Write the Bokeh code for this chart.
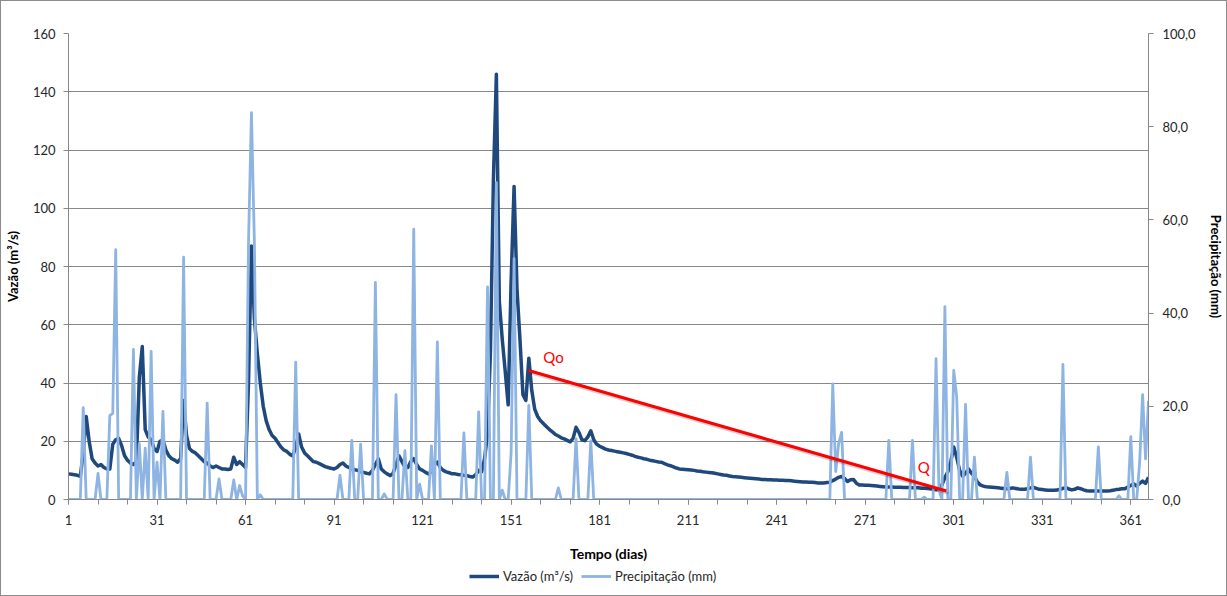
from bokeh.plotting import figure
from bokeh.layouts import column
from bokeh.models import Range1d, LinearAxis, FixedTicker, Legend, LegendItem, Label
from bokeh.embed import file_html
from bokeh.resources import INLINE

# ---------------- data ----------------
discharge = [
    8.8, 8.7, 8.5, 8.3, 8.0, 16, 28.5, 20, 14, 12.5,
    11.5, 12, 11, 10.5, 10.5, 19, 20.5, 21, 18.5, 15,
    13.5, 12.5, 12, 13, 42, 52.5, 24, 21.5, 20.5, 17.5,
    16.5, 20, 20.5, 17, 15, 14, 13.5, 12.8, 14, 34,
    22, 17.5, 16.5, 16, 15, 14, 13, 12.5, 11.5, 11,
    11.5, 11, 10.5, 10.5, 10.3, 10.5, 14.5, 12, 13, 12,
    11, 40, 87, 62, 50, 40, 32, 27, 24, 22,
    21, 19.5, 18, 17, 16.5, 15.5, 15, 18, 22.5, 18,
    16, 15, 14, 13, 12.8, 12.3, 11.8, 11.3, 11, 10.7,
    10.5, 11, 12, 12.5, 11.5, 11, 10.5, 10.2, 10, 9.6,
    9.3, 9, 8.8, 10, 12, 14, 10.5, 9.5, 8.8, 8.2,
    9, 12, 15, 13, 11.1, 11, 13, 14, 12, 10.5,
    10, 9.3, 8.8, 9.5, 12, 12.8, 11, 10, 9.5, 9.2,
    8.8, 8.8, 8.6, 8.5, 8.3, 8.2, 7.9, 7.7, 8.5, 10,
    9.5, 14, 22.5, 51, 110, 146, 68, 55, 44, 32.5,
    75, 107.5, 72, 55, 36, 34, 48.5, 37.4, 31, 28.5,
    27, 26, 25, 24, 23.2, 22.3, 21.8, 21.2, 20.8, 20.3,
    19.8, 21, 24.8, 23, 20.5, 20.2, 21.5, 23.6, 20.5, 19,
    18.3, 17.8, 17.3, 17, 16.8, 16.6, 16.4, 16.2, 16, 15.8,
    15.5, 15.2, 14.8, 14.5, 14.3, 14, 13.8, 13.5, 13.3, 13.1,
    12.9, 12.8, 12.3, 11.9, 11.6, 11.2, 10.8, 10.5, 10.4, 10.3,
    10.2, 10.1, 10, 9.8, 9.7, 9.5, 9.4, 9.3, 9.2, 9,
    8.8, 8.6, 8.4, 8.3, 8.1, 7.9, 7.8, 7.7, 7.6, 7.5,
    7.4, 7.3, 7.2, 7.1, 7.0, 6.9, 6.9, 6.8, 6.8, 6.7,
    6.7, 6.6, 6.6, 6.5, 6.5, 6.4, 6.3, 6.2, 6.1, 6.0,
    6.0, 5.9, 5.9, 5.8, 5.7, 5.7, 5.7, 5.8, 5.9, 6.5,
    7.0, 7.6, 7.9, 7.2, 6.2, 6.8, 6.9, 5.6, 5.0, 5.0,
    4.9, 4.9, 4.8, 4.7, 4.6, 4.5, 4.4, 4.3, 4.3, 4.3,
    4.2, 4.2, 4.2, 4.1, 4.1, 4.1, 4.0, 4.0, 4.0, 3.9,
    3.9, 3.8, 3.7, 3.5, 3.3, 3.5, 5.0, 7.5, 9.5, 13,
    18, 14.5, 10, 8, 9, 10.5, 9, 8, 6, 5,
    4.6, 4.4, 4.3, 4.2, 4.1, 4.0, 3.9, 3.8, 3.7, 3.8,
    4.0, 3.8, 3.6, 3.5, 3.5, 3.7, 4.0, 4.2, 3.8, 3.5,
    3.4, 3.3, 3.2, 3.2, 3.2, 3.3, 3.4, 3.8, 4.1, 3.6,
    3.3, 3.5, 4.0, 3.7, 3.3, 3.0, 2.9, 2.9, 2.9, 2.9,
    2.9, 2.9, 2.9, 3.0, 3.2, 3.4, 3.5, 3.7, 3.7, 4.3,
    4.8, 5.4, 4.6, 5.6, 6.3, 5.5, 7.6,
]

# days with rain (all other days: 0 mm)
rain_days = [6, 11, 15, 16, 17, 23, 25, 27, 29, 31, 33, 40, 48, 52, 57, 59, 60,
             62, 63, 64, 66, 78, 93, 97, 100, 105, 108, 112, 115, 118, 120, 124,
             126, 135, 140, 143, 146, 148, 151, 152, 157, 167, 173, 178, 260, 261,
             262, 263, 279, 287, 291, 295, 296, 298, 301, 302, 305, 308, 319, 327,
             338, 350, 357, 361, 364, 365, 366, 367]
rain_mm = [19.7, 5.6, 18, 18.5, 53.6, 32.2, 12, 11, 31.8, 8, 18.9, 52, 20.7, 4.4, 4.2, 3, 0.8,
           55, 83, 55, 1, 29.5, 5.2, 12.7, 11.9, 46.6, 1.2, 22.5, 10.5, 58, 3.3, 11.5,
           33.8, 14.3, 18.8, 45.6, 68, 2, 10, 51.7, 20.2, 2.5, 13, 12.6, 24.8, 6,
           12, 14.4, 12.7, 12.7, 0.5, 30.2, 2, 41.4, 27.7, 22, 20.4, 9.1, 5.8, 9.1,
           29, 11.3, 0.8, 13.5, 8, 22.5, 8.7, 21.2]

days = list(range(1, len(discharge) + 1))
precipitation = [0.0] * len(days)
for d, mm in zip(rain_days, rain_mm):
    precipitation[d - 1] = mm

x_ticks = [1, 31, 61, 91, 121, 151, 181, 211, 241, 271, 301, 331, 361]
x_minor = list(range(1, 368, 10))
q_ticks = [0, 20, 40, 60, 80, 100, 120, 140, 160]
p_ticks = [0, 20, 40, 60, 80, 100]
p_tick_labels = {0: "0,0", 20: "20,0", 40: "40,0", 60: "60,0", 80: "80,0", 100: "100,0"}

# recession segment Qo -> Q
recession_days = [156.9, 298.5]
recession_q = [44.3, 2.9]

# ---------------- styling ----------------
FONT = "Lato"
DARK = "#1F497D"
LIGHT = "#8DB4E2"
GRID = "#888888"
TXT = "#262626"

p = figure(width=1225, height=564, output_backend="svg", toolbar_location=None,
           x_range=Range1d(1, days[-1]), y_range=Range1d(0, 160),
           min_border_left=67, min_border_right=75, min_border_top=32, min_border_bottom=66)
p.extra_y_ranges = {"precip": Range1d(0, 100)}
p.outline_line_color = None
p.background_fill_color = "white"
p.border_fill_color = "white"

# x axis
xa = p.xaxis[0]
xa.ticker = FixedTicker(ticks=x_ticks, minor_ticks=x_minor)
xa.axis_label = "Tempo (dias)"
xa.axis_label_text_font = FONT
xa.axis_label_text_font_style = "bold"
xa.axis_label_text_font_size = "14px"
xa.axis_label_text_color = "#000000"
xa.axis_label_standoff = 17
xa.major_label_text_font = FONT
xa.major_label_text_font_size = "13px"
xa.major_label_text_color = TXT
xa.major_label_standoff = 10
xa.axis_line_color = GRID
xa.major_tick_line_color = GRID
xa.minor_tick_line_color = GRID
xa.major_tick_out = 5
xa.major_tick_in = 0
xa.minor_tick_out = 5
xa.minor_tick_in = 0

# left axis
ya = p.yaxis[0]
ya.ticker = FixedTicker(ticks=q_ticks)
ya.axis_label = "Vazão (m³/s)"
ya.axis_label_text_font = FONT
ya.axis_label_text_font_style = "bold"
ya.axis_label_text_font_size = "13px"
ya.axis_label_text_color = "#000000"
ya.axis_label_standoff = 9
ya.major_label_text_font = FONT
ya.major_label_text_font_size = "13px"
ya.major_label_text_color = TXT
ya.major_label_standoff = 8
ya.axis_line_color = GRID
ya.major_tick_line_color = GRID
ya.major_tick_out = 5
ya.major_tick_in = 0
ya.minor_tick_line_color = None

# right axis
ra = LinearAxis(y_range_name="precip", ticker=FixedTicker(ticks=p_ticks),
                axis_label="Precipitação (mm)")
ra.major_label_overrides = p_tick_labels
ra.axis_label_text_font = FONT
ra.axis_label_text_font_style = "bold"
ra.axis_label_text_font_size = "13px"
ra.axis_label_text_color = "#000000"
ra.axis_label_standoff = 9
ra.major_label_text_font = FONT
ra.major_label_text_font_size = "13px"
ra.major_label_text_color = TXT
ra.major_label_standoff = 9
ra.axis_line_color = GRID
ra.major_tick_line_color = GRID
ra.major_tick_out = 5
ra.major_tick_in = 0
ra.minor_tick_line_color = None
p.add_layout(ra, "right")

p.xgrid.grid_line_color = None
p.ygrid.ticker = FixedTicker(ticks=q_ticks)
p.ygrid.grid_line_color = GRID
p.ygrid.grid_line_width = 1

# series
r_q = p.line(days, discharge, line_color=DARK, line_width=3.5, line_join="round")
r_p = p.line(days, precipitation, line_color=LIGHT, line_width=2.8, line_join="round",
             y_range_name="precip")

# recession line (with faint shadow) and labels
p.line([d + 0.7 for d in recession_days], [q - 0.8 for q in recession_q],
       line_color="#000000", line_alpha=0.18, line_width=3)
p.line(recession_days, recession_q, line_color="#FF0000", line_width=3)
p.add_layout(Label(x=161.9, y=48.8, text="Qo", text_color="#FF0000",
                   text_font=FONT, text_font_size="15px", text_baseline="middle"))
p.add_layout(Label(x=288.8, y=11.0, text="Q", text_color="#FF0000",
                   text_font=FONT, text_font_size="15px", text_baseline="middle"))

# legend strip below the chart (its sample lines sit outside its own visible range)
leg = figure(width=1225, height=30, output_backend="svg", toolbar_location=None,
             x_range=Range1d(0, 1), y_range=Range1d(0, 1),
             x_axis_location=None, y_axis_location=None,
             min_border_left=0, min_border_right=0, min_border_top=0, min_border_bottom=0)
leg.grid.visible = False
leg.outline_line_color = None
lq = leg.line(days[:2], discharge[:2], line_color=DARK, line_width=3.5)
lp = leg.line(days[:2], discharge[:2], line_color=LIGHT, line_width=2.8)
legend = Legend(items=[LegendItem(label="Vazão (m³/s)", renderers=[lq]),
                       LegendItem(label="Precipitação (mm)", renderers=[lp])],
                orientation="horizontal", location=(401, 11),
                label_text_font=FONT, label_text_font_size="13px", label_text_color=TXT,
                glyph_width=30, glyph_height=14, spacing=8, padding=0, margin=0,
                label_standoff=4, border_line_color=None, background_fill_alpha=0)
leg.add_layout(legend, "center")

layout = column(p, leg, spacing=0, styles={"border": "1px solid #8c8c8c"})
open("out.html", "w").write(file_html(layout, INLINE))
